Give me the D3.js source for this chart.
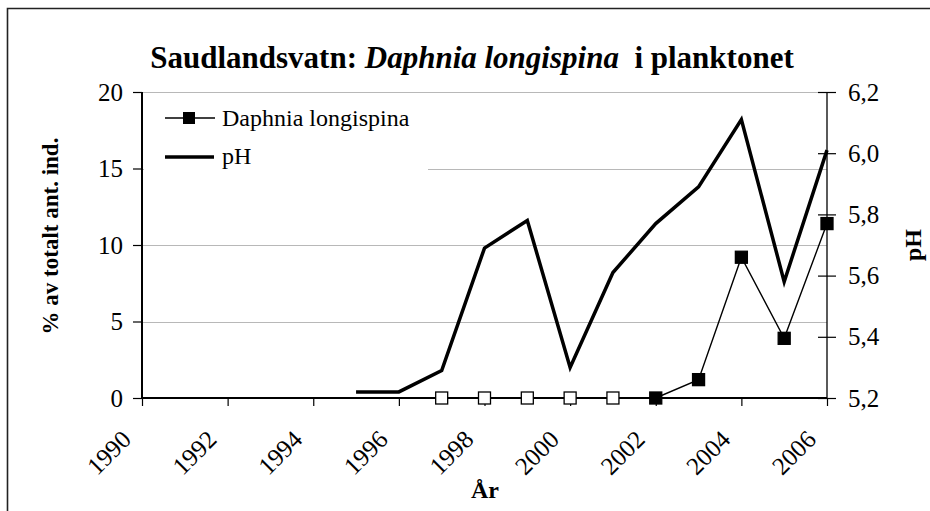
<!DOCTYPE html>
<html>
<head>
<meta charset="utf-8">
<script src="https://cdn.jsdelivr.net/npm/d3@7"></script>
<style>
  body { margin: 0; background: #fff; }
  svg, svg text { font-family: "Liberation Serif", "Times New Roman", serif; }
</style>
</head>
<body>
<div id="chart"></div>
<script>
// data
var aar_ph = [1995, 1996, 1997, 1998, 1999, 2000, 2001, 2002, 2003, 2004, 2005, 2006];
var ph = [5.22, 5.22, 5.29, 5.69, 5.78, 5.30, 5.61, 5.77, 5.89, 6.11, 5.58, 6.01];
var aar_daphnia = [1997, 1998, 1999, 2000, 2001, 2002, 2003, 2004, 2005, 2006];
var daphnia = [0, 0, 0, 0, 0, 0, 1.2, 9.2, 3.9, 11.4];
var aapne_aar = [1997, 1998, 1999, 2000, 2001]; // hvite markører
var x_ticks = [1990, 1992, 1994, 1996, 1998, 2000, 2002, 2004, 2006];
var y_ticks = [0, 5, 10, 15, 20];
var ph_ticks = [5.2, 5.4, 5.6, 5.8, 6.0, 6.2];

var W = 930, H = 511;
var margin = {top: 92, right: 103, bottom: 113, left: 142};
var width = W - margin.left - margin.right;
var height = H - margin.top - margin.bottom;
var serif = "'Liberation Serif', 'Times New Roman', serif";

var svg = d3.select("#chart").append("svg")
    .attr("width", W)
    .attr("height", H);

svg.append("rect")
    .attr("width", W).attr("height", H)
    .attr("fill", "white");

// ytre ramme (går ut av bildet til høyre og nederst)
svg.append("path")
    .attr("d", "M7.5," + (H + 2) + "V8.5H" + (W + 2))
    .attr("fill", "none")
    .attr("stroke", "#222")
    .attr("stroke-width", 1.6);

var g = svg.append("g")
    .attr("transform", "translate(" + margin.left + "," + margin.top + ")");

var x = d3.scaleLinear().domain([1990, 2006]).range([0, width]);
var y = d3.scaleLinear().domain([0, 20]).range([height, 0]);
var y2 = d3.scaleLinear().domain([5.2, 6.2]).range([height, 0]);

// rutenett
g.selectAll(".grid").data(y_ticks.slice(1))
  .enter().append("line")
    .attr("class", "grid")
    .attr("x1", 0).attr("x2", width)
    .attr("y1", d => Math.round(y(d)) + 0.5)
    .attr("y2", d => Math.round(y(d)) + 0.5)
    .attr("stroke", "#b8b8b8")
    .attr("stroke-width", 1);

// legend-bakgrunn dekker rutenettet
g.append("rect")
    .attr("x", 2).attr("y", 2)
    .attr("width", 284).attr("height", 82)
    .attr("fill", "white");

// venstre akse
var yAxis = d3.axisLeft(y).tickValues(y_ticks).tickSize(9).tickPadding(10);
var yAxisG = g.append("g").call(yAxis).attr("font-family", serif).attr("font-size", 25);
yAxisG.select(".domain").attr("stroke-width", 2).attr("d", "M0,0V" + height);
yAxisG.selectAll(".tick line").attr("stroke-width", 1.2);
yAxisG.selectAll("text").attr("fill", "#000");

// høyre akse
var y2Axis = d3.axisRight(y2).tickValues(ph_ticks).tickSize(9).tickPadding(12)
    .tickFormat(d => d3.format(".1f")(d).replace(".", ","));
var y2AxisG = g.append("g")
    .attr("transform", "translate(" + width + ",0)")
    .call(y2Axis)
    .attr("font-family", serif).attr("font-size", 25);
y2AxisG.select(".domain").attr("stroke-width", 1.3).attr("d", "M0,0V" + height);
y2AxisG.selectAll(".tick line").attr("x1", -9).attr("stroke-width", 1.2);
y2AxisG.selectAll("text").attr("fill", "#000");

// x-akse
var xAxis = d3.axisBottom(x).tickValues(x_ticks).tickSize(8).tickFormat(d3.format("d"));
var xAxisG = g.append("g")
    .attr("transform", "translate(0," + height + ")")
    .call(xAxis)
    .attr("font-family", serif).attr("font-size", 25);
xAxisG.select(".domain").attr("stroke-width", 2).attr("d", "M0,0H" + width);
xAxisG.selectAll(".tick line").attr("stroke-width", 1.2);
xAxisG.selectAll("text")
    .attr("fill", "#000")
    .attr("text-anchor", "end")
    .attr("y", 0).attr("dy", 0)
    .attr("transform", "translate(-10,43) rotate(-45)");

// pH-linje
var phLine = d3.line()
    .x((d, i) => x(aar_ph[i]))
    .y(d => y2(d));
g.append("path")
    .datum(ph)
    .attr("d", phLine)
    .attr("fill", "none")
    .attr("stroke", "#000")
    .attr("stroke-width", 3.5)
    .attr("stroke-linejoin", "miter");

// Daphnia-linje
var dLine = d3.line()
    .x((d, i) => x(aar_daphnia[i]))
    .y(d => y(d));
g.append("path")
    .datum(daphnia)
    .attr("d", dLine)
    .attr("fill", "none")
    .attr("stroke", "#000")
    .attr("stroke-width", 1.4);

var ms = 12;
g.selectAll(".marker").data(daphnia)
  .enter().append("rect")
    .attr("class", "marker")
    .attr("x", (d, i) => x(aar_daphnia[i]) - ms / 2)
    .attr("y", d => y(d) - ms / 2)
    .attr("width", ms).attr("height", ms)
    .attr("fill", (d, i) => aapne_aar.indexOf(aar_daphnia[i]) >= 0 ? "white" : "black")
    .attr("stroke", "#000")
    .attr("stroke-width", 1.3);

// legend
var legend = g.append("g");
legend.append("line")
    .attr("x1", 23).attr("x2", 73).attr("y1", 26).attr("y2", 26)
    .attr("stroke", "#000").attr("stroke-width", 1.4);
legend.append("rect")
    .attr("x", 47 - ms / 2).attr("y", 26 - ms / 2)
    .attr("width", ms).attr("height", ms).attr("fill", "#000");
legend.append("text")
    .attr("x", 80).attr("y", 34)
    .style("font-size", "24px")
    .text("Daphnia longispina");
legend.append("line")
    .attr("x1", 23).attr("x2", 72).attr("y1", 65).attr("y2", 65)
    .attr("stroke", "#000").attr("stroke-width", 3.5);
legend.append("text")
    .attr("x", 80).attr("y", 72)
    .style("font-size", "24px")
    .text("pH");

// tittel
var tittel = svg.append("text")
    .attr("x", 472).attr("y", 68)
    .attr("text-anchor", "middle")
    .style("font-family", serif)
    .style("font-size", "31px")
    .style("font-weight", "bold");
tittel.append("tspan").text("Saudlandsvatn: ");
tittel.append("tspan").style("font-style", "italic").text("Daphnia longispina");
tittel.append("tspan").attr("xml:space", "preserve").text("  i planktonet");

// aksetitler
svg.append("text")
    .attr("transform", "translate(58,236) rotate(-90)")
    .attr("text-anchor", "middle")
    .style("font-size", "23px")
    .style("font-weight", "bold")
    .text("% av totalt ant. ind.");

svg.append("text")
    .attr("transform", "translate(921,245) rotate(-90)")
    .attr("text-anchor", "middle")
    .style("font-size", "24px")
    .style("font-weight", "bold")
    .text("pH");

svg.append("text")
    .attr("x", 485).attr("y", 498)
    .attr("text-anchor", "middle")
    .style("font-size", "24px")
    .style("font-weight", "bold")
    .text("År");
</script>
</body>
</html>
